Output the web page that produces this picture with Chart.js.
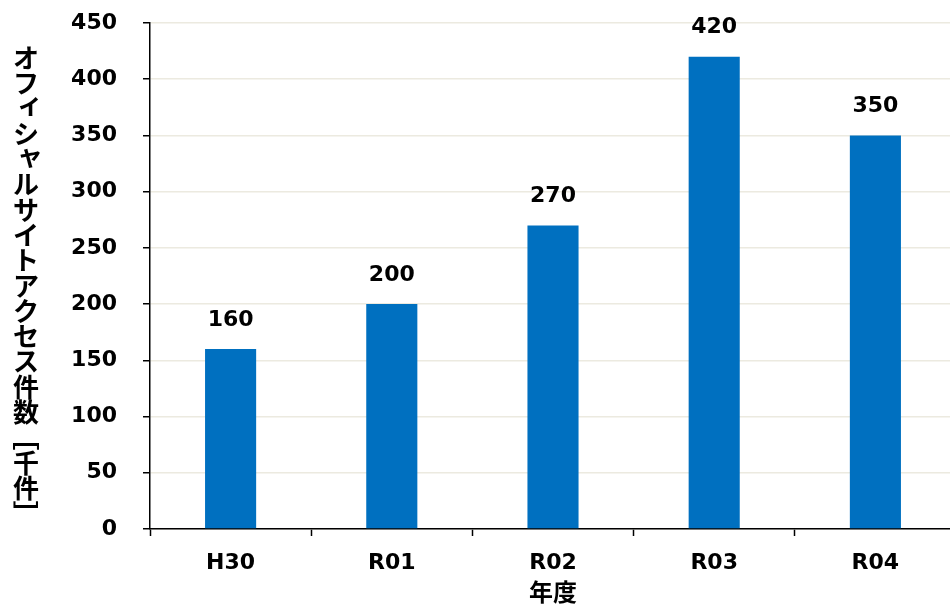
<!DOCTYPE html>
<html>
<head>
<meta charset="utf-8">
<script src="https://cdn.jsdelivr.net/npm/chart.js@4/dist/chart.umd.min.js"></script>
<style>
    html, body { margin: 0; padding: 0; background: #fff; overflow: hidden; }
    #wrap { position: relative; width: 956px; height: 606px; }
</style>
</head>
<body>
<div id="wrap"><canvas id="accessChart"></canvas></div>
<script>
var years = ["H30", "R01", "R02", "R03", "R04"];
var accessCounts = [160, 200, 270, 420, 350];
var yTicks = [0, 50, 100, 150, 200, 250, 300, 350, 400, 450];
var yTitle = "オフィシャルサイトアクセス件数［千件］";
var xTitle = "年度";

var numFont = "'DejaVu Sans', Verdana, sans-serif";
var jpFont = "'Noto Sans CJK JP', sans-serif";

// value labels above each bar
var barLabels = {
    id: 'barLabels',
    afterDatasetsDraw: function (chart) {
        var ctx = chart.ctx;
        var meta = chart.getDatasetMeta(0);
        ctx.save();
        ctx.font = "bold 22px " + numFont;
        ctx.fillStyle = "#000";
        ctx.textAlign = "center";
        ctx.textBaseline = "middle";
        meta.data.forEach(function (bar, i) {
            ctx.fillText(String(accessCounts[i]), bar.x, bar.y - 29);
        });
        ctx.restore();
    }
};

// vertical (stacked) y axis title
var verticalTitle = {
    id: 'verticalTitle',
    afterDraw: function (chart) {
        var ctx = chart.ctx;
        var chars = Array.from(yTitle);
        var x = 26, y0 = 58, step = 25.3;
        ctx.save();
        ctx.font = "bold 26px " + jpFont;
        ctx.fillStyle = "#000";
        ctx.textAlign = "center";
        ctx.textBaseline = "middle";
        chars.forEach(function (ch, i) {
            var y = y0 + i * step;
            if (ch === "［" || ch === "］") {
                ctx.save();
                ctx.translate(x, y);
                ctx.rotate(Math.PI / 2);
                ctx.fillText(ch, 0, 0);
                ctx.restore();
            } else if (ch === "ィ" || ch === "ャ") {
                ctx.fillText(ch, x + 4, y - 4);
            } else {
                ctx.fillText(ch, x, y);
            }
        });
        ctx.restore();
    }
};

var chartElem = document.getElementById("accessChart");
var accessChart = new Chart(chartElem, {
    type: 'bar',
    data: {
        labels: years,
        datasets: [
            {
                label: "アクセス件数",
                backgroundColor: "#0070C0",
                borderWidth: 0,
                barPercentage: 0.317,
                categoryPercentage: 1.0,
                data: accessCounts
            }
        ]
    },
    options: {
        responsive: true,
        maintainAspectRatio: false,
        animation: false,
        layout: { padding: { top: 23, left: 0, right: 0, bottom: 0 } },
        plugins: {
            legend: { display: false },
            tooltip: { enabled: false }
        },
        scales: {
            x: {
                offset: true,
                grid: {
                    display: true,
                    offset: true,
                    drawOnChartArea: false,
                    drawTicks: true,
                    tickLength: 7,
                    tickColor: "#000",
                    tickWidth: 1.5
                },
                border: { color: "#000", width: 1.5 },
                ticks: {
                    color: "#000",
                    padding: 14,
                    font: { family: numFont, size: 22, weight: 'bold' }
                },
                title: {
                    display: true,
                    text: xTitle,
                    color: "#000",
                    padding: { top: 0, bottom: 0 },
                    font: { family: jpFont, size: 24, weight: 'bold' }
                },
                afterFit: function (scale) {
                    scale.height = 77;
                    scale.paddingLeft = 0;
                    scale.paddingRight = 0;
                }
            },
            y: {
                min: 0,
                max: 450,
                afterBuildTicks: function (scale) {
                    scale.ticks = yTicks.map(function (v) { return { value: v }; });
                },
                grid: {
                    color: "#ECEAE0",
                    lineWidth: 1.5,
                    drawTicks: true,
                    tickLength: 7,
                    tickColor: "#000",
                    tickWidth: 1.5
                },
                border: { color: "#000", width: 1.5 },
                ticks: {
                    color: "#000",
                    padding: 26,
                    font: { family: numFont, size: 22, weight: 'bold' }
                },
                afterFit: function (scale) {
                    scale.width = 150;
                    scale.paddingTop = 0;
                    scale.paddingBottom = 0;
                }
            }
        }
    },
    plugins: [barLabels, verticalTitle]
});
</script>
</body>
</html>
